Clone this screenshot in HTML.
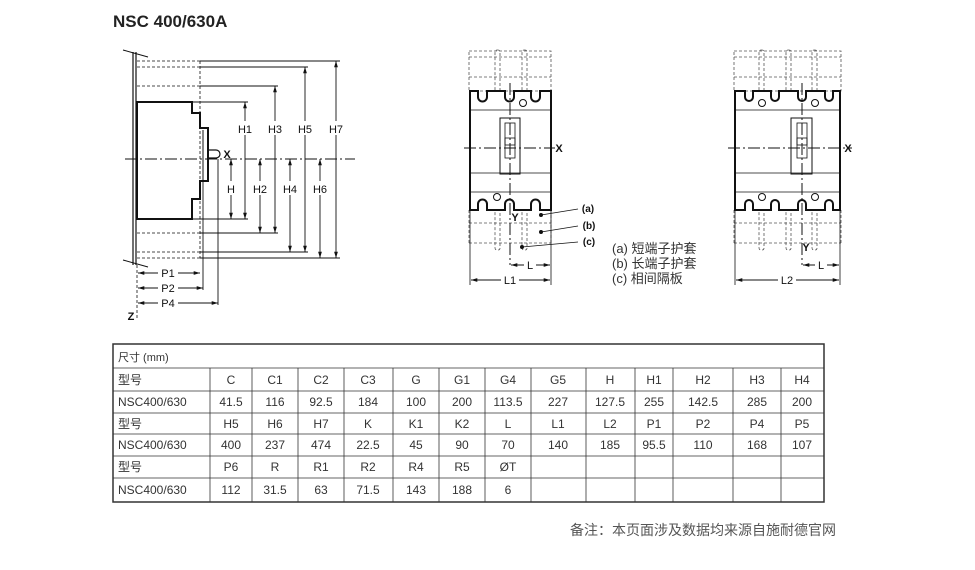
<!DOCTYPE html>
<html><head><meta charset="utf-8"><style>
body{margin:0;background:#fff;width:975px;height:570px;overflow:hidden;font-family:"Liberation Sans","Noto Sans CJK SC",sans-serif}
svg{position:absolute;left:0;top:0}
</style></head><body>
<svg width="975" height="570" viewBox="0 0 975 570" font-family="Liberation Sans, Noto Sans CJK SC, sans-serif">
<defs>
<marker id="a" viewBox="0 0 10 10" refX="10" refY="5" markerWidth="7" markerHeight="7" orient="auto-start-reverse"><path d="M0,2 L10,5 L0,8z" fill="#111"/></marker>
</defs>
<text x="113" y="27" font-size="17" font-weight="bold" fill="#222">NSC 400/630A</text>

<!-- LEFT DRAWING -->
<g stroke="#111" fill="none">
<line x1="133" y1="52" x2="133" y2="265" stroke-width="1.2"/>
<line x1="136" y1="52" x2="136" y2="265" stroke-width="1.2"/>
<line x1="123" y1="50" x2="148" y2="57" stroke-width="1"/>
<line x1="123" y1="260" x2="148" y2="267" stroke-width="1"/>
<path d="M137,102 H192 V113 H200 V128 H208 V181 H200 V199 H192 V219 H137 Z" stroke-width="2"/>
<line x1="203" y1="130" x2="203" y2="180" stroke-width="1"/>
<path d="M208,150 H216 A4,4 0 0 1 216,158 H208" stroke-width="1.2"/>
<line x1="125" y1="159" x2="355" y2="159" stroke-width="1" stroke-dasharray="12,3,2,3"/>
<g stroke-dasharray="3,2" stroke-width="0.8">
<line x1="137" y1="61" x2="200" y2="61"/><line x1="137" y1="67" x2="200" y2="67"/><line x1="137" y1="86" x2="200" y2="86"/>
<line x1="137" y1="233" x2="200" y2="233"/><line x1="137" y1="252" x2="200" y2="252"/><line x1="137" y1="258" x2="200" y2="258"/>
<line x1="200" y1="61" x2="200" y2="258"/>
<line x1="137" y1="265" x2="137" y2="320"/>
</g>
<g stroke-width="0.9">
<line x1="200" y1="61" x2="340" y2="61"/><line x1="200" y1="67" x2="308" y2="67"/><line x1="200" y1="86" x2="278" y2="86"/>
<line x1="192" y1="102" x2="248" y2="102"/><line x1="192" y1="219" x2="248" y2="219"/>
<line x1="200" y1="233" x2="278" y2="233"/><line x1="200" y1="252" x2="308" y2="252"/><line x1="200" y1="258" x2="340" y2="258"/>
<line x1="203" y1="180" x2="203" y2="290"/><line x1="218" y1="159" x2="218" y2="305"/>
</g>
<g stroke-width="0.9" marker-start="url(#a)" marker-end="url(#a)">
<line x1="245" y1="102" x2="245" y2="219"/><line x1="275" y1="86" x2="275" y2="233"/>
<line x1="305" y1="67" x2="305" y2="252"/><line x1="336" y1="61" x2="336" y2="258"/>
<line x1="231" y1="159" x2="231" y2="219"/><line x1="260" y1="159" x2="260" y2="233"/>
<line x1="290" y1="159" x2="290" y2="252"/><line x1="320" y1="159" x2="320" y2="258"/>
<line x1="138" y1="273" x2="200" y2="273"/><line x1="138" y1="288" x2="203" y2="288"/><line x1="138" y1="303" x2="218" y2="303"/>
</g>
</g>
<g font-size="11" fill="#111" text-anchor="middle">
<rect x="236" y="121" width="18" height="14" fill="#fff"/><text x="245" y="133">H1</text>
<rect x="266" y="121" width="18" height="14" fill="#fff"/><text x="275" y="133">H3</text>
<rect x="296" y="121" width="18" height="14" fill="#fff"/><text x="305" y="133">H5</text>
<rect x="327" y="121" width="18" height="14" fill="#fff"/><text x="336" y="133">H7</text>
<rect x="224" y="181" width="14" height="14" fill="#fff"/><text x="231" y="193">H</text>
<rect x="251" y="181" width="18" height="14" fill="#fff"/><text x="260" y="193">H2</text>
<rect x="281" y="181" width="18" height="14" fill="#fff"/><text x="290" y="193">H4</text>
<rect x="311" y="181" width="18" height="14" fill="#fff"/><text x="320" y="193">H6</text>
<rect x="158" y="266" width="20" height="13" fill="#fff"/><text x="168" y="277">P1</text>
<rect x="158" y="281" width="20" height="13" fill="#fff"/><text x="168" y="292">P2</text>
<rect x="158" y="296" width="20" height="13" fill="#fff"/><text x="168" y="307">P4</text>
<text x="227" y="158" font-weight="bold">X</text>
<text x="131" y="320" font-weight="bold">Z</text>
</g>

<!-- MIDDLE DRAWING -->
<g stroke="#111" fill="none">
<g stroke-dasharray="3,2" stroke-width="0.8" stroke="#555">
<rect x="469" y="51" width="82" height="40"/><line x1="469" y1="57" x2="551" y2="57"/><line x1="469" y1="77" x2="551" y2="77"/>
<line x1="469" y1="210" x2="469" y2="243"/><line x1="551" y1="210" x2="551" y2="243"/>
<line x1="469" y1="223" x2="551" y2="223"/><line x1="469" y1="243" x2="551" y2="243"/>
<rect x="495" y="50" width="5" height="200" rx="2"/><rect x="522" y="50" width="5" height="200" rx="2"/>
</g>
<path d="M470,91 H478 V97 A4.5,4.5 0 0 0 487,97 V91 H505 V97 A4.5,4.5 0 0 0 514,97 V91 H531 V97 A4.5,4.5 0 0 0 540,97 V91 H551 V210 H540 V204 A4.5,4.5 0 0 0 531,204 V210 H514 V204 A4.5,4.5 0 0 0 505,204 V210 H487 V204 A4.5,4.5 0 0 0 478,204 V210 H470 Z" stroke-width="2" fill="#fff"/>
<circle cx="523" cy="103" r="3.5" stroke-width="1"/><circle cx="497" cy="197" r="3.5" stroke-width="1"/>
<g stroke-width="0.8"><line x1="470" y1="110" x2="551" y2="110"/><line x1="470" y1="173" x2="551" y2="173"/><line x1="470" y1="192" x2="551" y2="192"/></g>
<rect x="500" y="118" width="20" height="56" stroke-width="1"/>
<rect x="505" y="123" width="10" height="35" stroke-width="0.8"/><rect x="505" y="138" width="10" height="7" stroke-width="0.8"/>
<line x1="464" y1="148" x2="555" y2="148" stroke-width="1" stroke-dasharray="12,3,2,3"/>
<line x1="510" y1="83" x2="510" y2="265" stroke-width="1" stroke-dasharray="12,3,2,3"/>
<g stroke-width="0.8"><line x1="470" y1="210" x2="470" y2="285"/><line x1="551" y1="210" x2="551" y2="285"/>
<line x1="541" y1="215" x2="578" y2="209"/><line x1="541" y1="232" x2="578" y2="226"/><line x1="522" y1="247" x2="578" y2="242"/></g>
<g fill="#111"><circle cx="541" cy="215" r="1.5"/><circle cx="541" cy="232" r="1.5"/><circle cx="522" cy="247" r="1.5"/></g>
<g stroke-width="0.9" marker-start="url(#a)" marker-end="url(#a)">
<line x1="511" y1="265" x2="550" y2="265"/><line x1="471" y1="280" x2="550" y2="280"/></g>
</g>
<g font-size="11" fill="#111" text-anchor="middle">
<text x="559" y="152" font-weight="bold">X</text>
<text x="515" y="221" font-weight="bold">Y</text>
<rect x="524" y="259" width="12" height="12" fill="#fff"/><text x="530" y="269">L</text>
<rect x="501" y="274" width="18" height="12" fill="#fff"/><text x="510" y="284">L1</text>
<text x="588" y="212" font-weight="bold" font-size="10">(a)</text>
<text x="589" y="229" font-weight="bold" font-size="10">(b)</text>
<text x="589" y="245" font-weight="bold" font-size="10">(c)</text>
</g>
<g font-size="13" fill="#333">
<text x="612" y="253">(a) 短端子护套</text>
<text x="612" y="268">(b) 长端子护套</text>
<text x="612" y="283">(c) 相间隔板</text>
</g>

<!-- RIGHT DRAWING -->
<g stroke="#111" fill="none">
<g stroke-dasharray="3,2" stroke-width="0.8" stroke="#555">
<rect x="734" y="51" width="107" height="40"/><line x1="734" y1="57" x2="841" y2="57"/><line x1="734" y1="77" x2="841" y2="77"/>
<line x1="734" y1="210" x2="734" y2="243"/><line x1="841" y1="210" x2="841" y2="243"/>
<line x1="734" y1="223" x2="841" y2="223"/><line x1="734" y1="243" x2="841" y2="243"/>
<rect x="759" y="50" width="5" height="200" rx="2"/><rect x="786" y="50" width="5" height="200" rx="2"/><rect x="812" y="50" width="5" height="200" rx="2"/>
</g>
<path d="M735,91 H745 V97 A4,4 0 0 0 753,97 V91 H771 V97 A4,4 0 0 0 779,97 V91 H798 V97 A4,4 0 0 0 806,97 V91 H825 V97 A4,4 0 0 0 833,97 V91 H840 V210 H833 V204 A4,4 0 0 0 825,204 V210 H806 V204 A4,4 0 0 0 798,204 V210 H779 V204 A4,4 0 0 0 771,204 V210 H753 V204 A4,4 0 0 0 745,204 V210 H735 Z" stroke-width="2" fill="#fff"/>
<circle cx="762" cy="103" r="3.5" stroke-width="1"/><circle cx="815" cy="103" r="3.5" stroke-width="1"/>
<circle cx="762" cy="197" r="3.5" stroke-width="1"/><circle cx="815" cy="197" r="3.5" stroke-width="1"/>
<g stroke-width="0.8"><line x1="735" y1="110" x2="840" y2="110"/><line x1="735" y1="173" x2="840" y2="173"/><line x1="735" y1="192" x2="840" y2="192"/></g>
<rect x="791" y="118" width="21" height="56" stroke-width="1"/>
<rect x="797" y="123" width="10" height="35" stroke-width="0.8"/><rect x="797" y="138" width="10" height="7" stroke-width="0.8"/>
<line x1="728" y1="148" x2="852" y2="148" stroke-width="1" stroke-dasharray="12,3,2,3"/>
<line x1="802" y1="83" x2="802" y2="265" stroke-width="1" stroke-dasharray="12,3,2,3"/>
<g stroke-width="0.8"><line x1="735" y1="210" x2="735" y2="285"/><line x1="840" y1="210" x2="840" y2="285"/></g>
<g stroke-width="0.9" marker-start="url(#a)" marker-end="url(#a)">
<line x1="803" y1="265" x2="839" y2="265"/><line x1="736" y1="280" x2="839" y2="280"/></g>
</g>
<g font-size="11" fill="#111" text-anchor="middle">
<text x="848" y="152" font-weight="bold">X</text>
<text x="806" y="251" font-weight="bold">Y</text>
<rect x="815" y="259" width="12" height="12" fill="#fff"/><text x="821" y="269">L</text>
<rect x="778" y="274" width="18" height="12" fill="#fff"/><text x="787" y="284">L2</text>
</g>

<!-- TABLE -->
<g stroke="#333" fill="none" stroke-width="1">
<rect x="113" y="344" width="711" height="158" stroke-width="1.5"/>
<g stroke-width="0.8">
<line x1="113" y1="368" x2="824" y2="368"/><line x1="113" y1="391" x2="824" y2="391"/><line x1="113" y1="413" x2="824" y2="413"/>
<line x1="113" y1="434" x2="824" y2="434"/><line x1="113" y1="456" x2="824" y2="456"/><line x1="113" y1="478" x2="824" y2="478"/>
<line x1="210" y1="368" x2="210" y2="502"/><line x1="252" y1="368" x2="252" y2="502"/><line x1="298" y1="368" x2="298" y2="502"/>
<line x1="344" y1="368" x2="344" y2="502"/><line x1="393" y1="368" x2="393" y2="502"/><line x1="439" y1="368" x2="439" y2="502"/>
<line x1="485" y1="368" x2="485" y2="502"/><line x1="531" y1="368" x2="531" y2="502"/><line x1="586" y1="368" x2="586" y2="502"/>
<line x1="635" y1="368" x2="635" y2="502"/><line x1="673" y1="368" x2="673" y2="502"/><line x1="733" y1="368" x2="733" y2="502"/>
<line x1="781" y1="368" x2="781" y2="502"/>
</g></g>
<g font-size="12" fill="#333">
<text x="118" y="361" font-size="11">尺寸 (mm)</text>
<text x="118" y="384">型号</text><text x="118" y="406">NSC400/630</text>
<text x="118" y="428">型号</text><text x="118" y="449">NSC400/630</text>
<text x="118" y="471">型号</text><text x="118" y="494">NSC400/630</text>
</g>
<g font-size="12" fill="#333" text-anchor="middle">
<g transform="translate(0,384)"><text x="231">C</text><text x="275">C1</text><text x="321">C2</text><text x="368">C3</text><text x="416">G</text><text x="462">G1</text><text x="508">G4</text><text x="558">G5</text><text x="610">H</text><text x="654">H1</text><text x="703">H2</text><text x="757">H3</text><text x="802">H4</text></g>
<g transform="translate(0,406)"><text x="231">41.5</text><text x="275">116</text><text x="321">92.5</text><text x="368">184</text><text x="416">100</text><text x="462">200</text><text x="508">113.5</text><text x="558">227</text><text x="610">127.5</text><text x="654">255</text><text x="703">142.5</text><text x="757">285</text><text x="802">200</text></g>
<g transform="translate(0,428)"><text x="231">H5</text><text x="275">H6</text><text x="321">H7</text><text x="368">K</text><text x="416">K1</text><text x="462">K2</text><text x="508">L</text><text x="558">L1</text><text x="610">L2</text><text x="654">P1</text><text x="703">P2</text><text x="757">P4</text><text x="802">P5</text></g>
<g transform="translate(0,449)"><text x="231">400</text><text x="275">237</text><text x="321">474</text><text x="368">22.5</text><text x="416">45</text><text x="462">90</text><text x="508">70</text><text x="558">140</text><text x="610">185</text><text x="654">95.5</text><text x="703">110</text><text x="757">168</text><text x="802">107</text></g>
<g transform="translate(0,471)"><text x="231">P6</text><text x="275">R</text><text x="321">R1</text><text x="368">R2</text><text x="416">R4</text><text x="462">R5</text><text x="508">ØT</text></g>
<g transform="translate(0,494)"><text x="231">112</text><text x="275">31.5</text><text x="321">63</text><text x="368">71.5</text><text x="416">143</text><text x="462">188</text><text x="508">6</text></g>
</g>
<text x="570" y="535" font-size="14" fill="#555">备注：本页面涉及数据均来源自施耐德官网</text>
</svg>
</body></html>
